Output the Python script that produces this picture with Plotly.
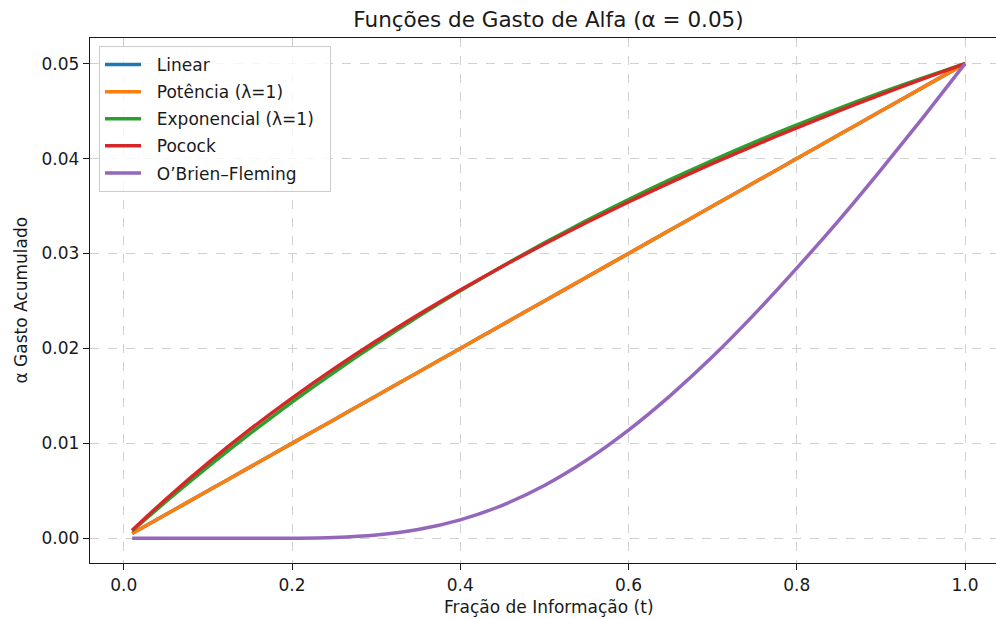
import plotly.graph_objects as go

# Information fraction
t = [0.01, 0.05, 0.10, 0.15, 0.20, 0.25, 0.30, 0.35, 0.40, 0.45, 0.50,
     0.55, 0.60, 0.65, 0.70, 0.75, 0.80, 0.85, 0.90, 0.95, 1.00]

linear = [0.0005, 0.0025, 0.0050, 0.0075, 0.0100, 0.0125, 0.0150, 0.0175, 0.0200, 0.0225, 0.0250,
          0.0275, 0.0300, 0.0325, 0.0350, 0.0375, 0.0400, 0.0425, 0.0450, 0.0475, 0.0500]
potencia = [0.0005, 0.0025, 0.0050, 0.0075, 0.0100, 0.0125, 0.0150, 0.0175, 0.0200, 0.0225, 0.0250,
            0.0275, 0.0300, 0.0325, 0.0350, 0.0375, 0.0400, 0.0425, 0.0450, 0.0475, 0.0500]
exponencial = [0.000787, 0.003858, 0.007527, 0.011018, 0.014338, 0.017497, 0.020501, 0.023359,
               0.026077, 0.028663, 0.031123, 0.033463, 0.035688, 0.037806, 0.039820, 0.041735,
               0.043557, 0.045291, 0.046940, 0.048508, 0.050000]
pocock = [0.000852, 0.004121, 0.007928, 0.011466, 0.014770, 0.017869, 0.020787, 0.023544,
          0.026157, 0.028640, 0.031006, 0.033265, 0.035426, 0.037497, 0.039486, 0.041399,
          0.043242, 0.045019, 0.046735, 0.048394, 0.050000]
obf = [0.0, 0.0, 0.0, 0.00000042, 0.0000117, 0.0000886, 0.000346, 0.00092, 0.00194, 0.00348,
       0.00557, 0.00822, 0.01140, 0.01506, 0.01914, 0.02364, 0.02846, 0.03350, 0.03882, 0.04432, 0.05000]

series = [
    ("Linear", linear, "#1f77b4"),
    ("Potência (λ=1)", potencia, "#ff7f0e"),
    ("Exponencial (λ=1)", exponencial, "#2ca02c"),
    ("Pocock", pocock, "#d62728"),
    ("O’Brien–Fleming", obf, "#9467bd"),
]

FONT = "DejaVu Sans"
fig = go.Figure()
for i, (name, ys, col) in enumerate(series):
    fig.add_trace(go.Scatter(x=t, y=ys, mode="lines", name="\u00a0\u00a0" + name + "\u00a0\u00a0", legendgroup=str(i),
                             line=dict(color=col, width=3.5, shape="spline", smoothing=0.6)))

W, H = 996, 619
L, R, T, B = 90, 0, 38, 56
fig.update_layout(
    width=W, height=H,
    margin=dict(l=L, r=R, t=T, b=B),
    plot_bgcolor="white", paper_bgcolor="white",
    font=dict(family=FONT, size=17, color="#1a1a1a"),
    title=dict(text="Funções de Gasto de Alfa (α = 0.05)", font=dict(size=21.5, color="#1a1a1a"),
               x=(548.5 - L) / (W - L - R), xref="paper", xanchor="center",
               y=1 - 19 / H, yref="container", yanchor="middle"),
    showlegend=True,
    legend=dict(x=(99 - L) / (W - L - R), y=1 - (46 - T) / (H - T - B), xanchor="left", yanchor="top",
                bgcolor="rgba(255,255,255,0.8)", bordercolor="#cccccc", borderwidth=1,
                font=dict(size=17, color="#1a1a1a"), tracegroupgap=2, itemwidth=36),
    xaxis=dict(range=[-0.0401, 1.0368], tickvals=[0, 0.2, 0.4, 0.6, 0.8, 1.0],
               ticktext=["0.0", "0.2", "0.4", "0.6", "0.8", "1.0"],
               showline=True, linecolor="#1a1a1a", linewidth=1.4, mirror=True,
               ticks="outside", ticklen=6, tickwidth=1.4, tickcolor="#1a1a1a",
               showgrid=True, gridcolor="#d0d0d0", griddash="dash", gridwidth=1,
               zeroline=False),
    yaxis=dict(range=[-0.0026, 0.0527], tickvals=[0, 0.01, 0.02, 0.03, 0.04, 0.05],
               ticktext=["0.00", "0.01", "0.02", "0.03", "0.04", "0.05"],
               showline=True, linecolor="#1a1a1a", linewidth=1.4, mirror=False,
               ticks="outside", ticklen=6, tickwidth=1.4, tickcolor="#1a1a1a",
               showgrid=True, gridcolor="#d0d0d0", griddash="dash", gridwidth=1,
               zeroline=False),
    annotations=[
        dict(text="Fração de Informação (t)", xref="paper", yref="paper",
             x=(548.5 - L) / (W - L - R), y=-(607 - (H - B)) / (H - T - B),
             xanchor="center", yanchor="middle", showarrow=False, font=dict(size=17)),
        dict(text="α Gasto Acumulado", xref="paper", yref="paper",
             x=-(L - 20) / (W - L - R), y=0.5, textangle=-90,
             xanchor="center", yanchor="middle", showarrow=False, font=dict(size=17)),
    ],
)

fig.write_html("out.html", config={"displayModeBar": False},
               post_script="document.body.style.margin='0';document.body.style.overflow='hidden';")
